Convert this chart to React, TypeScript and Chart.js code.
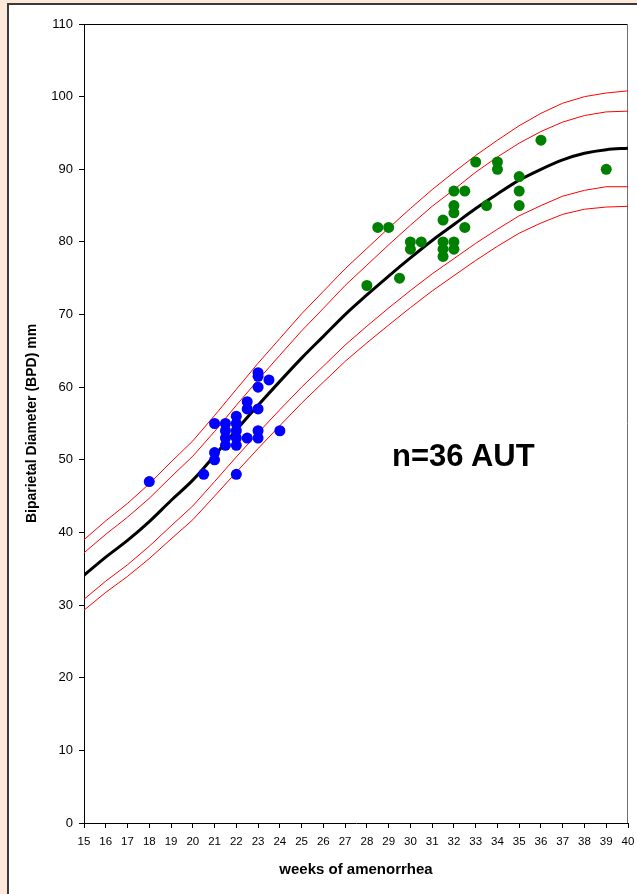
import React, { useEffect, useRef } from "react";
import { Chart, registerables } from "chart.js";

Chart.register(...registerables);

const weeks = [15, 16, 17, 18, 19, 20, 21, 22, 23, 24, 25, 26, 27, 28, 29, 30, 31, 32, 33, 34, 35, 36, 37, 38, 39, 40];
const median = [34.1, 36.6, 38.9, 41.5, 44.4, 47.2, 50.6, 54.1, 57.5, 60.8, 64.0, 67.0, 70.0, 72.7, 75.3, 77.8, 80.2, 82.4, 84.6, 86.6, 88.5, 90.0, 91.3, 92.2, 92.7, 92.9];
const upperOuter = [39.0, 41.6, 44.0, 46.7, 49.7, 52.6, 56.1, 59.7, 63.3, 66.7, 70.1, 73.2, 76.3, 79.1, 81.9, 84.6, 87.2, 89.6, 91.9, 94.0, 96.0, 97.7, 99.1, 100.0, 100.5, 100.8];
const upperInner = [37.2, 39.75, 42.1, 44.7, 47.65, 50.5, 53.9, 57.5, 61.0, 64.4, 67.75, 70.85, 74.0, 76.8, 79.6, 82.3, 84.9, 87.2, 89.6, 91.7, 93.6, 95.2, 96.5, 97.4, 97.9, 98.0];
const lowerInner = [30.8, 33.3, 35.55, 38.1, 40.9, 43.65, 47.0, 50.4, 53.7, 56.9, 60.0, 62.9, 65.8, 68.4, 70.9, 73.3, 75.6, 77.7, 79.8, 81.75, 83.6, 85.0, 86.3, 87.1, 87.6, 87.6];
const lowerOuter = [29.3, 31.75, 33.95, 36.4, 39.1, 41.75, 45.0, 48.3, 51.55, 54.7, 57.8, 60.7, 63.55, 66.1, 68.55, 70.95, 73.25, 75.35, 77.45, 79.4, 81.2, 82.6, 83.8, 84.5, 84.8, 84.9];

const blueWeeks = [18, 20.5, 21, 21, 21, 21.5, 21.5, 21.5, 21.5, 22, 22, 22, 22, 22, 22, 22.5, 22.5, 22.5, 23, 23, 23, 23, 23, 23, 23.5, 24];
const blueBPD = [47, 48, 51, 50, 55, 55, 54, 53, 52, 56, 55, 54, 53, 52, 48, 58, 57, 53, 62, 61.5, 60, 57, 54, 53, 61, 54];

const greenWeeks = [28, 28.5, 29, 29.5, 30, 30, 30.5, 31.5, 31.5, 31.5, 31.5, 32, 32, 32, 32, 32, 32.5, 32.5, 33, 33.5, 34, 34, 35, 35, 35, 36, 39];
const greenBPD = [74, 82, 82, 75, 80, 79, 80, 83, 80, 79, 78, 87, 85, 84, 80, 79, 87, 82, 91, 85, 91, 90, 89, 87, 85, 94, 90];

const xTicks = weeks;
const yTicks = [0, 10, 20, 30, 40, 50, 60, 70, 80, 90, 100, 110];

const FONT = "Arial, 'Liberation Sans', sans-serif";

const toPoints = (xs: number[], ys: number[]) => xs.map((x, i) => ({ x, y: ys[i] }));

const framePlugin = {
  id: "frame",
  beforeDatasetsDraw(chart: any) {
    const { ctx, chartArea } = chart;
    ctx.save();
    ctx.lineWidth = 1;
    ctx.strokeStyle = "#000000";
    ctx.beginPath();
    ctx.moveTo(chartArea.left, chartArea.top + 0.5);
    ctx.lineTo(chartArea.right, chartArea.top + 0.5);
    ctx.stroke();
    ctx.strokeStyle = "#707070";
    ctx.beginPath();
    ctx.moveTo(chartArea.right - 0.5, chartArea.top);
    ctx.lineTo(chartArea.right - 0.5, chartArea.bottom);
    ctx.stroke();
    ctx.restore();
  },
};

export default function App() {
  const ref = useRef<HTMLCanvasElement | null>(null);

  useEffect(() => {
    if (!ref.current) return;
    const redLine = (data: number[]) => ({
      type: "line" as const,
      data: toPoints(weeks, data),
      borderColor: "#FF0000",
      borderWidth: 1,
      pointRadius: 0,
      showLine: true,
      tension: 0,
      fill: false,
    });
    const chart = new Chart(ref.current, {
      type: "scatter",
      data: {
        datasets: [
          {
            label: "green",
            data: toPoints(greenWeeks, greenBPD),
            backgroundColor: "#008000",
            borderColor: "#008000",
            pointRadius: 5.5,
            pointBorderWidth: 0,
          },
          {
            label: "blue",
            data: toPoints(blueWeeks, blueBPD),
            backgroundColor: "#0000FF",
            borderColor: "#0000FF",
            pointRadius: 5.5,
            pointBorderWidth: 0,
          },
          {
            type: "line",
            label: "median",
            data: toPoints(weeks, median),
            borderColor: "#000000",
            borderWidth: 3,
            pointRadius: 0,
            showLine: true,
            cubicInterpolationMode: "monotone",
            fill: false,
          } as any,
          redLine(upperOuter) as any,
          redLine(upperInner) as any,
          redLine(lowerInner) as any,
          redLine(lowerOuter) as any,
        ],
      },
      options: {
        animation: false,
        responsive: true,
        maintainAspectRatio: false,
        layout: { padding: { left: 0, top: 24, right: 9, bottom: 0 } },
        plugins: { legend: { display: false }, tooltip: { enabled: false } },
        scales: {
          x: {
            type: "linear",
            min: 15,
            max: 40,
            afterFit: (s: any) => {
              s.height = 71;
              s.paddingLeft = 0;
              s.paddingRight = 0;
            },
            afterBuildTicks: (s: any) => {
              s.ticks = xTicks.map((v) => ({ value: v }));
            },
            ticks: {
              color: "#000000",
              font: { family: FONT, size: 11.5 },
              padding: 7,
              maxRotation: 0,
              autoSkip: false,
            },
            grid: { drawOnChartArea: false, drawTicks: true, tickLength: 5, tickColor: "#000000" },
            border: { color: "#000000", width: 1 },
            title: {
              display: true,
              text: "weeks of amenorrhea",
              color: "#000000",
              font: { family: FONT, size: 15, weight: "bold" },
              padding: { top: 0, bottom: 15 },
            },
          },
          y: {
            type: "linear",
            min: 0,
            max: 110,
            afterFit: (s: any) => {
              s.width = 84;
              s.paddingTop = 0;
              s.paddingBottom = 0;
            },
            afterBuildTicks: (s: any) => {
              s.ticks = yTicks.map((v) => ({ value: v }));
            },
            ticks: {
              color: "#000000",
              font: { family: FONT, size: 13 },
              padding: 6,
            },
            grid: { drawOnChartArea: false, drawTicks: true, tickLength: 5, tickColor: "#000000" },
            border: { color: "#000000", width: 1 },
            title: {
              display: true,
              text: "Biparietal Diameter (BPD) mm",
              color: "#000000",
              font: { family: FONT, size: 14, weight: "bold" },
              padding: { top: 24, bottom: 0 },
            },
          },
        },
      },
      plugins: [framePlugin],
    });
    return () => chart.destroy();
  }, []);

  return (
    <div
      style={{
        position: "absolute",
        left: 0,
        top: 0,
        width: 637,
        height: 894,
        background: "#FDE9D9",
        overflow: "hidden",
      }}
    >
      <div
        style={{
          position: "absolute",
          left: 7,
          top: 3,
          width: 660,
          height: 920,
          background: "#FFFFFF",
          border: "2px solid #3a3a3a",
        }}
      />
      <div style={{ position: "absolute", left: 0, top: 0, width: 637, height: 894 }}>
        <canvas ref={ref} />
      </div>
      <div
        style={{
          position: "absolute",
          left: 392,
          top: 440,
          fontFamily: FONT,
          fontWeight: "bold",
          fontSize: 31,
          lineHeight: "31px",
          color: "#000000",
          whiteSpace: "nowrap",
        }}
      >
        n=36 AUT
      </div>
    </div>
  );
}
